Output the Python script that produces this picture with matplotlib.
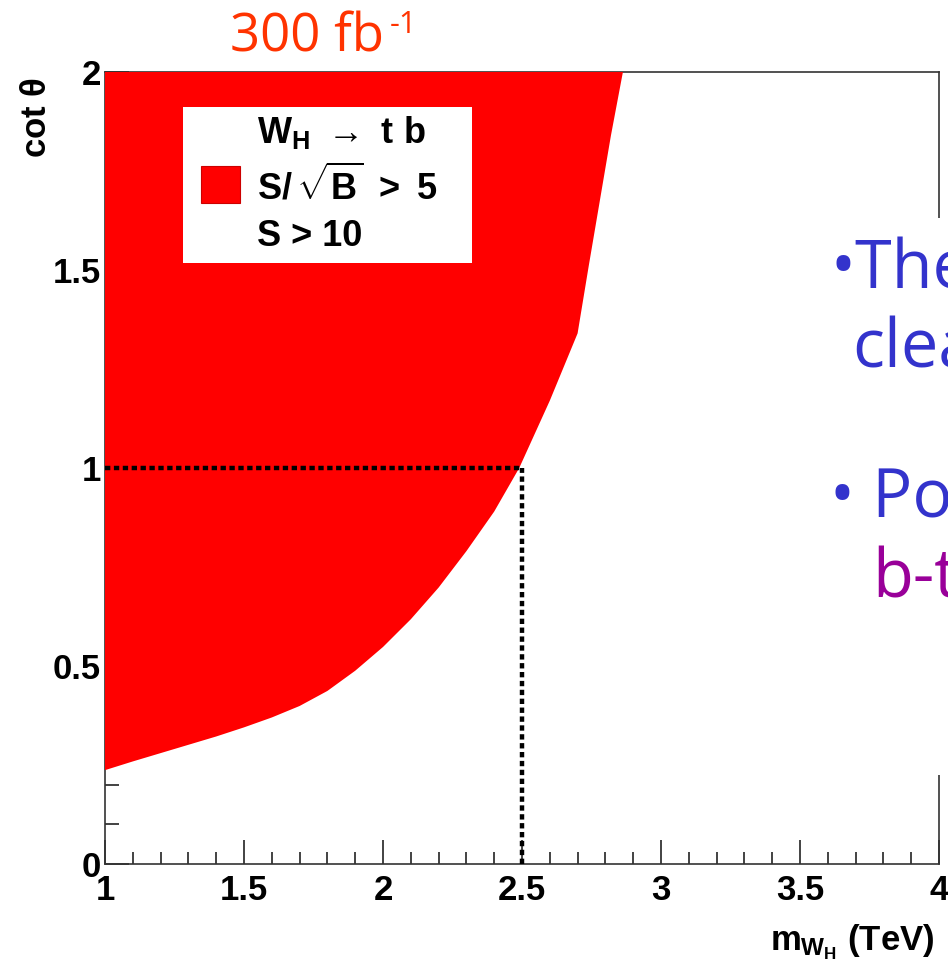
"""
Discovery region for W_H -> t b with 300 fb-1 (cot theta vs m_WH)
"""
import matplotlib
matplotlib.use("Agg")
import matplotlib.pyplot as plt
from matplotlib.patches import Rectangle
from matplotlib.ticker import MultipleLocator

# boundary of the S/sqrt(B) > 5, S > 10 region
m_wh = [1.0, 1.1, 1.2, 1.3, 1.4, 1.5, 1.6, 1.7, 1.8, 1.9, 2.0, 2.1, 2.2, 2.3, 2.4, 2.49,
        2.6, 2.7, 2.74, 2.78, 2.82, 2.863]
cot_theta = [0.237, 0.259, 0.28, 0.301, 0.322, 0.345, 0.37, 0.399, 0.437, 0.488, 0.548,
             0.618, 0.698, 0.79, 0.89, 1.0, 1.17, 1.34, 1.51, 1.675, 1.84, 2.0]

# reference point drawn with dotted lines
ref_m, ref_cot = 2.5, 1.0

xticks = [1, 1.5, 2, 2.5, 3, 3.5, 4]
xtick_labels = ["1", "1.5", "2", "2.5", "3", "3.5", "4"]
yticks = [0, 0.5, 1, 1.5, 2]
ytick_labels = ["0", "0.5", "1", "1.5", "2"]

plt.rcParams["mathtext.fontset"] = "custom"
plt.rcParams["mathtext.rm"] = "Liberation Sans:bold"
plt.rcParams["mathtext.it"] = "Liberation Sans:bold"
plt.rcParams["mathtext.bf"] = "Liberation Sans:bold"
plt.rcParams["mathtext.sf"] = "Liberation Sans:bold"

W, H = 948, 963
fig = plt.figure(figsize=(W / 100, H / 100), dpi=100)
ax = fig.add_axes([105 / W, 1 - 864 / H, (939 - 105) / W, (864 - 72) / H])
ax.set_xlim(1, 4)
ax.set_ylim(0, 2)
ax.set_axisbelow(True)

# red allowed region: from the left edge to the boundary
poly_x = m_wh + [1.0]
poly_y = cot_theta + [2.0]
ax.fill(poly_x, poly_y, color="#ff0000", lw=0, zorder=3)

# dotted lines to the 2.5 TeV, cot=1 point
ax.plot([1, ref_m], [ref_cot, ref_cot], color="black", lw=3.2, dashes=(1.2, 0.8), zorder=4)
ax.plot([ref_m, ref_m], [0, ref_cot], color="black", lw=3.2, dashes=(1.2, 0.8), zorder=4)

for s in ax.spines.values():
    s.set_color("#333333")
    s.set_linewidth(1.2)

ax.xaxis.set_minor_locator(MultipleLocator(0.1))
ax.yaxis.set_minor_locator(MultipleLocator(0.1))
ax.set_xticks(xticks)
ax.set_xticklabels(xtick_labels)
ax.set_yticks(yticks)
ax.set_yticklabels(ytick_labels)
ax.tick_params(which="both", direction="in", top=False, right=False, color="#222222", width=1.2)
ax.tick_params(axis="x", which="major", length=17, pad=7)
ax.tick_params(axis="x", which="minor", length=8.6)
ax.tick_params(axis="y", which="major", length=17, pad=3)
ax.tick_params(axis="y", which="minor", length=10)
for lab in ax.get_xticklabels() + ax.get_yticklabels():
    lab.set_fontfamily("Liberation Sans")
    lab.set_fontweight("bold")
    lab.set_fontsize(25)

# legend box drawn by hand, ROOT style
ax.add_patch(Rectangle((0.0935, 0.759), 0.3465, 0.197, transform=ax.transAxes,
                       facecolor="white", edgecolor="none", zorder=5))
ax.add_patch(Rectangle(((201 - 105) / 834, (864 - 203) / 792), 39 / 834, 37 / 792,
                       transform=ax.transAxes, facecolor="#ff0000", edgecolor="#cc0000",
                       lw=0.8, zorder=6))
leg_x = (257 - 105) / 834
ax.text(leg_x, (864 - 143) / 792, r"$W_{H}\ \rightarrow\ t\ b$", transform=ax.transAxes,
        fontsize=26, va="baseline", ha="left", zorder=6)
ax.text(leg_x, (864 - 200) / 792, r"$S/\,\sqrt{B}\ {>}\ 5$", transform=ax.transAxes,
        fontsize=26, va="baseline", ha="left", zorder=6)
ax.text(leg_x, (864 - 246) / 792, "S > 10", transform=ax.transAxes, family="Liberation Sans",
        weight="bold", fontsize=26, va="baseline", ha="left", zorder=6)

# axis titles
fig.text(36 / W, 1 - 77 / H, r"cot $\theta$", rotation=90, ha="center", va="top",
         family="Liberation Sans", weight="bold", fontsize=25)
fig.text(935 / W, 1 - 950 / H, r"$m_{W_{H}}$ (TeV)", ha="right", va="baseline",
         family="Liberation Sans", weight="bold", fontsize=25)

# luminosity label
fig.text(230 / W, 1 - 52 / H, "300 fb", ha="left", va="baseline",
         family="Open Sans", color="#ff3300", fontsize=38)
fig.text(390 / W, 1 - 33 / H, "-1", ha="left", va="baseline",
         family="Open Sans", color="#ff3300", fontsize=22)

# slide text overlapping the plot on the right
fig.patches.append(Rectangle((720 / W, 1 - 775 / H), (W - 720) / W, (775 - 218) / H,
                             transform=fig.transFigure, facecolor="white", edgecolor="none",
                             zorder=10))
blue = "#3333cc"
fig.text(830 / W, 1 - 288 / H, "\u2022The", color=blue, family="Open Sans", fontsize=48,
         va="baseline", ha="left", zorder=11)
fig.text(852 / W, 1 - 367 / H, "clea", color=blue, family="Open Sans", fontsize=48,
         va="baseline", ha="left", zorder=11)
fig.text(830 / W, 1 - 518 / H, "\u2022 Pos", color=blue, family="Open Sans", fontsize=48,
         va="baseline", ha="left", zorder=11)
fig.text(872 / W, 1 - 597 / H, "b-t", color="#990099", family="Open Sans", fontsize=48,
         va="baseline", ha="left", zorder=11)

fig.savefig("out.png", dpi=100)
